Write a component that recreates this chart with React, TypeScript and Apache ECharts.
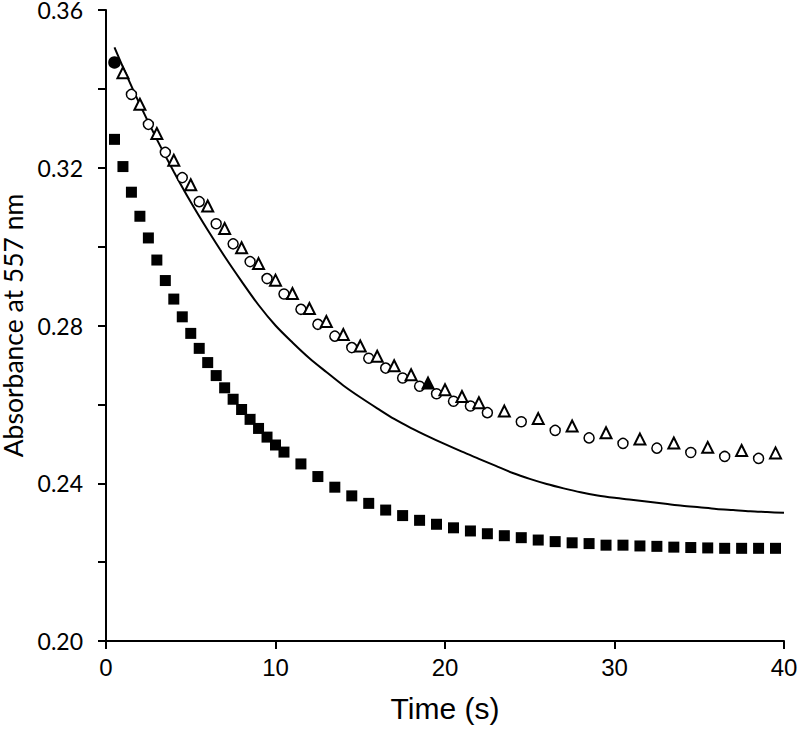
import React, { useEffect, useRef } from "react";
import * as echarts from "echarts";

// Filled squares
const squareTimes = [
  0.5, 1, 1.5, 2, 2.5, 3, 3.5, 4, 4.5, 5, 5.5, 6, 6.5, 7, 7.5, 8, 8.5, 9, 9.5, 10, 10.5,
  11.5, 12.5, 13.5, 14.5, 15.5, 16.5, 17.5, 18.5, 19.5, 20.5, 21.5, 22.5, 23.5,
  24.5, 25.5, 26.5, 27.5, 28.5, 29.5, 30.5, 31.5, 32.5, 33.5, 34.5, 35.5, 36.5, 37.5, 38.5, 39.5,
];
const squareValues = [
  0.3272, 0.3203, 0.3138, 0.3077, 0.3022, 0.2966, 0.2914, 0.2867, 0.2822, 0.278, 0.2742,
  0.2706, 0.2673, 0.2642, 0.2613, 0.2587, 0.2562, 0.2539, 0.2517, 0.2497, 0.2479,
  0.2449, 0.2417, 0.239, 0.2368, 0.2349, 0.2332, 0.2318, 0.2306, 0.2296, 0.2287, 0.2279, 0.2272, 0.2267,
  0.2262, 0.2256, 0.2252, 0.2249, 0.2247, 0.2243, 0.2243, 0.2241, 0.224, 0.2238, 0.2237, 0.2236,
  0.2235, 0.2235, 0.2235, 0.2235,
];

// Open circles (first point drawn filled)
const circleTimes = [
  0.5, 1.5, 2.5, 3.5, 4.5, 5.5, 6.5, 7.5, 8.5, 9.5, 10.5, 11.5, 12.5, 13.5, 14.5, 15.5, 16.5,
  17.5, 18.5, 19.5, 20.5, 21.5, 22.5, 24.5, 26.5, 28.5, 30.5, 32.5, 34.5, 36.5, 38.5,
];
const circleValues = [
  0.3467, 0.3386, 0.331, 0.3239, 0.3175, 0.3114, 0.3058, 0.3007, 0.2962, 0.2919, 0.288, 0.2841,
  0.2803, 0.2773, 0.2744, 0.2717, 0.2692, 0.2667, 0.2646, 0.2627, 0.2608, 0.2596, 0.2579,
  0.2556, 0.2534, 0.2515, 0.2501, 0.2489, 0.2478, 0.2468, 0.2463,
];
const filledCircleTimes = [0.5];

// Open triangles (one drawn filled)
const triangleTimes = [
  1, 2, 3, 4, 5, 6, 7, 8, 9, 10, 11, 12, 13, 14, 15, 16, 17, 18, 19, 20, 21, 22,
  23.5, 25.5, 27.5, 29.5, 31.5, 33.5, 35.5, 37.5, 39.5,
];
const triangleValues = [
  0.3441, 0.3361, 0.3287, 0.3219, 0.3157, 0.3103, 0.3046, 0.2997, 0.2957, 0.2915, 0.2881,
  0.2843, 0.281, 0.2777, 0.2748, 0.2722, 0.2698, 0.2675, 0.2654, 0.2637, 0.262, 0.2604,
  0.2583, 0.2564, 0.2545, 0.2528, 0.2512, 0.2502, 0.2491, 0.2483, 0.2477,
];
const filledTriangleTimes = [19];

// Fitted curve
const fitTimes = [
  0.5, 1, 2, 3, 4, 5, 6, 7, 8, 9, 10, 11, 12, 13, 14, 15, 16, 17, 18, 19, 20,
  21, 22, 23, 24, 25, 26, 27, 28, 29, 30, 31, 32, 33, 34, 35, 36, 37, 38, 39, 40,
];
const fitValues = [
  0.3505, 0.3455, 0.336, 0.3272, 0.319, 0.3113, 0.3042, 0.2975, 0.2912, 0.2852, 0.28,
  0.2757, 0.2717, 0.2682, 0.2648, 0.2618, 0.259, 0.2563, 0.254, 0.2519, 0.2499,
  0.248, 0.2462, 0.2444, 0.2426, 0.2411, 0.2398, 0.2387, 0.2377, 0.2369, 0.2363,
  0.2358, 0.2353, 0.2348, 0.2343, 0.2339, 0.2335, 0.2332, 0.2329, 0.2327, 0.2325,
];

const xTicks = { min: 0, max: 40, interval: 10 };
const yTicks = { min: 0.2, max: 0.36, interval: 0.02 };

export default function App() {
  const ref = useRef<HTMLDivElement>(null);
  useEffect(() => {
    document.body.style.margin = "0";
    const chart = echarts.init(ref.current!, null, { renderer: "svg" });
    const black = "#000000";
    const narrow = "'Liberation Sans Narrow', 'Liberation Sans', Arial, sans-serif";
    const humanist = "Lato, 'Noto Sans', sans-serif";
    chart.setOption({
      animation: false,
      backgroundColor: "#ffffff",
      grid: {
        left: 106,
        right: 16,
        top: 10,
        bottom: 105,
        containLabel: false,
        outerBoundsMode: "none",
      },
      xAxis: {
        type: "value",
        min: xTicks.min,
        max: xTicks.max,
        interval: xTicks.interval,
        name: "Time (s)",
        nameLocation: "middle",
        nameGap: 52,
        nameTextStyle: { fontFamily: narrow, fontSize: 30, color: black },
        axisLine: { show: true, onZero: false, lineStyle: { color: black, width: 2 } },
        axisTick: { show: true, inside: false, length: 8, lineStyle: { color: black, width: 2 } },
        axisLabel: { margin: 14, fontFamily: narrow, fontSize: 24, color: black },
        splitLine: { show: false },
      },
      yAxis: {
        type: "value",
        min: yTicks.min,
        max: yTicks.max,
        interval: yTicks.interval,
        name: "Absorbance at 557 nm",
        nameLocation: "middle",
        nameGap: 72,
        nameTextStyle: { fontFamily: humanist, fontSize: 26.5, color: black, lineHeight: 26 },
        axisLine: { show: true, onZero: false, lineStyle: { color: black, width: 2 } },
        axisTick: { show: true, inside: false, length: 8, lineStyle: { color: black, width: 2 } },
        axisLabel: {
          margin: 23,
          fontFamily: humanist,
          fontSize: 23,
          lineHeight: 16,
          color: black,
          formatter: (v: number) => (Math.round(v * 100) % 4 === 0 ? v.toFixed(2) : ""),
        },
        splitLine: { show: false },
      },
      series: [
        {
          name: "fit",
          type: "line",
          data: fitTimes.map((t, i) => [t, fitValues[i]]),
          showSymbol: false,
          smooth: 0.3,
          lineStyle: { color: black, width: 2 },
          z: 1,
        },
        {
          name: "squares",
          type: "scatter",
          symbol: "rect",
          symbolSize: 11,
          data: squareTimes.map((t, i) => [t, squareValues[i]]),
          itemStyle: { color: black, opacity: 1 },
          z: 2,
        },
        {
          name: "circles",
          type: "scatter",
          symbol: "circle",
          symbolSize: 10,
          data: circleTimes.map((t, i) =>
            filledCircleTimes.includes(t)
              ? { value: [t, circleValues[i]], symbolSize: 11, itemStyle: { color: black } }
              : [t, circleValues[i]]
          ),
          itemStyle: { color: "#ffffff", borderColor: black, borderWidth: 1.5, opacity: 1 },
          z: 3,
        },
        {
          name: "triangles",
          type: "scatter",
          symbol: "triangle",
          symbolSize: 11,
          data: triangleTimes.map((t, i) =>
            filledTriangleTimes.includes(t)
              ? { value: [t, triangleValues[i]], itemStyle: { color: black } }
              : [t, triangleValues[i]]
          ),
          itemStyle: { color: "#ffffff", borderColor: black, borderWidth: 2, opacity: 1 },
          z: 3,
        },
      ],
    });
    return () => chart.dispose();
  }, []);
  return <div ref={ref} style={{ width: 800, height: 746 }} />;
}
